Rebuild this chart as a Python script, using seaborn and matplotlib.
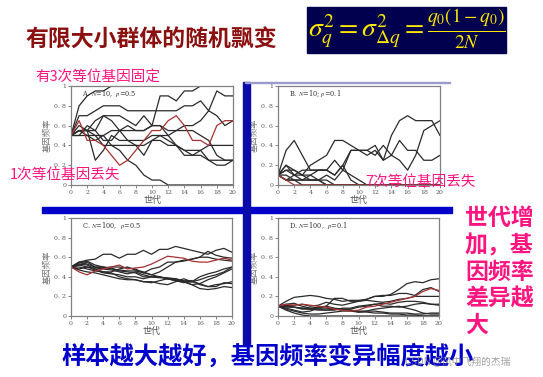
import numpy as np
import pandas as pd
import seaborn as sns
import matplotlib.pyplot as plt
from matplotlib.patches import Rectangle

sns.set_style("white")
plt.rcParams['font.family'] = ['Noto Sans CJK SC', 'DejaVu Sans']
plt.rcParams['mathtext.fontset'] = 'stix'

gens = list(range(21))

# panel A: N=10, p=0.5
a_lines = [
    [0.5, 0.8, 0.9, 0.95, 0.95, 1.0, 1.0, 1.0, 1.0, 1.0, 1.0, 1.0, 1.0, 1.0, 1.0, 1.0, 1.0, 1.0, 1.0, 1.0, 1.0],
    [0.5, 0.55, 0.55, 0.5, 0.5, 0.55, 0.55, 0.6, 0.55, 0.55, 0.6, 0.9, 0.9, 0.85, 0.95, 0.95, 1.0, 1.0, 1.0, 1.0, 1.0],
    [0.5, 0.7, 0.7, 0.75, 0.8, 0.8, 0.8, 0.75, 0.75, 0.75, 0.75, 0.75, 0.75, 0.75, 0.8, 0.8, 0.85, 0.75, 0.95, 0.9, 0.9],
    [0.5, 0.6, 0.55, 0.65, 0.7, 0.7, 0.7, 0.65, 0.6, 0.7, 0.6, 0.6, 0.5, 0.4, 0.35, 0.3, 0.3, 0.25, 0.2, 0.2, 0.25],
    [0.5, 0.55, 0.55, 0.55, 0.45, 0.45, 0.55, 0.55, 0.55, 0.55, 0.6, 0.6, 0.55, 0.55, 0.6, 0.6, 0.65, 0.75, 0.7, 0.6, 0.65],
    [0.5, 0.5, 0.5, 0.5, 0.4, 0.4, 0.4, 0.4, 0.4, 0.4, 0.45, 0.45, 0.4, 0.4, 0.35, 0.35, 0.35, 0.4, 0.4, 0.4, 0.4],
    [0.5, 0.55, 0.55, 0.25, 0.35, 0.5, 0.45, 0.45, 0.4, 0.3, 0.45, 0.5, 0.45, 0.4, 0.3, 0.3, 0.35, 0.25, 0.25, 0.25, 0.25],
    [0.5, 0.5, 0.6, 0.55, 0.7, 0.65, 0.55, 0.45, 0.45, 0.45, 0.5, 0.5, 0.5, 0.55, 0.55, 0.55, 0.5, 0.45, 0.3, 0.25, 0.25],
    [0.5, 0.55, 0.5, 0.45, 0.5, 0.4, 0.35, 0.25, 0.2, 0.1, 0.05, 0.05, 0.0, 0.0, 0.0, 0.0, 0.0, 0.0, 0.0, 0.0, 0.0],
]
a_red = [0.5, 0.65, 0.45, 0.45, 0.4, 0.3, 0.2, 0.25, 0.35, 0.45, 0.55, 0.55, 0.65, 0.7, 0.6, 0.45, 0.45, 0.4, 0.6, 0.65, 0.65]

# panel B: N=10, p=0.1
b_lines = [
    [0.1, 0.35, 0.45, 0.3, 0.15, 0.15, 0.15, 0.1, 0.2, 0.35, 0.35, 0.35, 0.4, 0.25, 0.5, 0.65, 0.7, 0.65, 0.65, 0.65, 0.5],
    [0.1, 0.2, 0.15, 0.1, 0.2, 0.25, 0.3, 0.45, 0.45, 0.4, 0.35, 0.3, 0.35, 0.25, 0.3, 0.25, 0.15, 0.3, 0.55, 0.6, 0.65],
    [0.1, 0.05, 0.1, 0.15, 0.15, 0.15, 0.15, 0.25, 0.15, 0.35, 0.35, 0.35, 0.3, 0.4, 0.3, 0.45, 0.35, 0.35, 0.25, 0.25, 0.3],
    [0.1, 0.15, 0.15, 0.1, 0.05, 0.05, 0.0, 0.0, 0.0, 0.0, 0.0, 0.0, 0.0, 0.0, 0.0, 0.0, 0.0, 0.0, 0.0, 0.0, 0.0],
    [0.1, 0.05, 0.05, 0.05, 0.05, 0.05, 0.05, 0.0, 0.0, 0.0, 0.0, 0.0, 0.0, 0.0, 0.0, 0.0, 0.0, 0.0, 0.0, 0.0, 0.0],
    [0.1, 0.1, 0.05, 0.0, 0.0, 0.0, 0.0, 0.0, 0.0, 0.0, 0.0, 0.0, 0.0, 0.0, 0.0, 0.0, 0.0, 0.0, 0.0, 0.0, 0.0],
    [0.1, 0.15, 0.1, 0.05, 0.1, 0.05, 0.1, 0.05, 0.15, 0.1, 0.05, 0.0, 0.0, 0.0, 0.0, 0.0, 0.0, 0.0, 0.0, 0.0, 0.0],
    [0.1, 0.2, 0.1, 0.1, 0.1, 0.15, 0.15, 0.1, 0.2, 0.05, 0.0, 0.0, 0.0, 0.0, 0.0, 0.0, 0.0, 0.0, 0.0, 0.0, 0.0],
    [0.1, 0.05, 0.05, 0.05, 0.05, 0.05, 0.0, 0.0, 0.0, 0.0, 0.0, 0.0, 0.0, 0.0, 0.0, 0.0, 0.0, 0.0, 0.0, 0.0, 0.0],
]
b_red = [0.1, 0.05, 0.0, 0.0, 0.0, 0.0, 0.0, 0.0, 0.0, 0.0, 0.0, 0.0, 0.0, 0.0, 0.0, 0.0, 0.0, 0.0, 0.0, 0.0, 0.0]

# panel C: N=100, p=0.5
c_lines = [
    [0.5, 0.55, 0.57, 0.58, 0.63, 0.63, 0.59, 0.63, 0.63, 0.67, 0.63, 0.68, 0.68, 0.71, 0.69, 0.67, 0.65, 0.63, 0.67, 0.69, 0.65],
    [0.5, 0.52, 0.55, 0.5, 0.49, 0.5, 0.5, 0.49, 0.48, 0.44, 0.48, 0.5, 0.55, 0.55, 0.57, 0.58, 0.6, 0.66, 0.62, 0.6, 0.59],
    [0.5, 0.53, 0.52, 0.48, 0.45, 0.45, 0.48, 0.5, 0.47, 0.45, 0.42, 0.45, 0.5, 0.55, 0.56, 0.58, 0.6, 0.6, 0.58, 0.57, 0.56],
    [0.5, 0.48, 0.5, 0.47, 0.44, 0.43, 0.42, 0.4, 0.4, 0.38, 0.4, 0.4, 0.38, 0.36, 0.35, 0.35, 0.37, 0.4, 0.42, 0.45, 0.5],
    [0.5, 0.5, 0.48, 0.46, 0.45, 0.44, 0.4, 0.38, 0.37, 0.35, 0.35, 0.33, 0.32, 0.35, 0.38, 0.35, 0.33, 0.3, 0.3, 0.34, 0.33],
    [0.5, 0.47, 0.45, 0.44, 0.42, 0.4, 0.38, 0.37, 0.37, 0.35, 0.34, 0.36, 0.38, 0.37, 0.35, 0.32, 0.28, 0.27, 0.28, 0.3, 0.29],
    [0.5, 0.52, 0.5, 0.49, 0.48, 0.47, 0.45, 0.43, 0.45, 0.42, 0.4, 0.39, 0.39, 0.38, 0.36, 0.36, 0.32, 0.3, 0.32, 0.33, 0.35],
    [0.5, 0.55, 0.53, 0.5, 0.5, 0.48, 0.47, 0.46, 0.46, 0.44, 0.42, 0.4, 0.38, 0.38, 0.35, 0.32, 0.33, 0.37, 0.4, 0.44, 0.48],
    [0.5, 0.54, 0.56, 0.52, 0.5, 0.49, 0.46, 0.45, 0.44, 0.4, 0.4, 0.4, 0.38, 0.36, 0.34, 0.35, 0.4, 0.43, 0.45, 0.48, 0.5],
]
c_red = [0.5, 0.45, 0.42, 0.46, 0.48, 0.5, 0.52, 0.48, 0.49, 0.5, 0.53, 0.57, 0.61, 0.6, 0.59, 0.56, 0.55, 0.55, 0.57, 0.59, 0.57]

# panel D: N=100, p=0.1
d_lines = [
    [0.1, 0.15, 0.19, 0.2, 0.21, 0.2, 0.18, 0.17, 0.15, 0.16, 0.16, 0.17, 0.2, 0.2, 0.22, 0.27, 0.33, 0.35, 0.34, 0.37, 0.38],
    [0.1, 0.12, 0.13, 0.1, 0.08, 0.09, 0.1, 0.18, 0.18, 0.15, 0.15, 0.17, 0.2, 0.21, 0.21, 0.23, 0.23, 0.21, 0.27, 0.29, 0.25],
    [0.1, 0.1, 0.11, 0.12, 0.1, 0.11, 0.14, 0.12, 0.11, 0.13, 0.15, 0.16, 0.15, 0.14, 0.15, 0.17, 0.18, 0.2, 0.2, 0.2, 0.2],
    [0.1, 0.08, 0.06, 0.04, 0.05, 0.08, 0.1, 0.08, 0.07, 0.07, 0.09, 0.1, 0.12, 0.13, 0.12, 0.14, 0.15, 0.15, 0.14, 0.12, 0.11],
    [0.1, 0.1, 0.09, 0.08, 0.08, 0.07, 0.06, 0.06, 0.08, 0.08, 0.1, 0.11, 0.12, 0.1, 0.1, 0.09, 0.1, 0.12, 0.13, 0.12, 0.12],
    [0.1, 0.07, 0.05, 0.03, 0.02, 0.02, 0.03, 0.04, 0.05, 0.05, 0.04, 0.05, 0.05, 0.04, 0.03, 0.03, 0.03, 0.02, 0.02, 0.03, 0.03],
    [0.1, 0.09, 0.09, 0.08, 0.07, 0.06, 0.06, 0.07, 0.07, 0.06, 0.05, 0.05, 0.07, 0.08, 0.09, 0.1, 0.08, 0.06, 0.03, 0.02, 0.02],
    [0.1, 0.11, 0.09, 0.07, 0.07, 0.08, 0.08, 0.07, 0.06, 0.06, 0.04, 0.04, 0.03, 0.03, 0.02, 0.02, 0.01, 0.01, 0.0, 0.0, 0.0],
    [0.1, 0.06, 0.03, 0.01, 0.0, 0.0, 0.0, 0.0, 0.0, 0.0, 0.0, 0.0, 0.0, 0.0, 0.0, 0.0, 0.0, 0.0, 0.0, 0.0, 0.0],
]
d_red = [0.1, 0.12, 0.11, 0.12, 0.11, 0.1, 0.09, 0.07, 0.06, 0.05, 0.06, 0.09, 0.1, 0.12, 0.14, 0.16, 0.18, 0.2, 0.25, 0.28, 0.26]

panel_labels = [r"A. $N$=10,  $p$=0.5", r"B. $N$=10; $p$=0.1",
                r"C. $N$=100,  $p$=0.5", r"D. $N$=100,  $p$=0.1"]
yticks = [0, 0.2, 0.4, 0.6, 0.8, 1]
ytick_labels = ["0", "0. 2", "0. 4", "0. 6", "0. 8", "1"]
xticks = list(range(0, 21, 2))

W, H = 543, 377
fig = plt.figure(figsize=(W / 100, H / 100), dpi=100)
fig.patch.set_facecolor("white")


def fx(px):
    return px / W


def fy(py):
    return 1 - py / H


# blue cross separating the panels
fig.patches.append(Rectangle((fx(42), fy(213)), fx(410), 6 / H, transform=fig.transFigure,
                             color="#0000C8", zorder=0))
fig.patches.append(Rectangle((fx(243), fy(345)), fx(7), 263 / H, transform=fig.transFigure,
                             color="#0A0AAA", zorder=0))
fig.patches.append(Rectangle((fx(245), fy(82.6)), fx(205), 0.7 / H, transform=fig.transFigure,
                             color="#9a9acc", zorder=0))

# formula box
fig.patches.append(Rectangle((fx(307), fy(53)), fx(199), 46 / H, transform=fig.transFigure,
                             color="#00004E", zorder=0))
fig.text(fx(407), fy(29), r"$\sigma_q^2=\sigma_{\Delta q}^2=\frac{q_0(1-q_0)}{2N}$",
         color="#FFE800", fontsize=20, ha="center", va="center")

boxes = [(71, 86, 162, 99), (278, 86, 162, 99), (71, 218, 161, 98), (278, 218, 161, 98)]
series = [(a_lines, a_red), (b_lines, b_red), (c_lines, c_red), (d_lines, d_red)]

for (x0, y0, w, h), (lines, red), label in zip(boxes, series, panel_labels):
    ax = fig.add_axes([fx(x0), fy(y0 + h), w / W, h / H])
    for vals in lines:
        sns.lineplot(x=gens, y=vals, ax=ax, color="#2a2a2a", lw=0.9)
    sns.lineplot(x=gens, y=red, ax=ax, color="#A83232", lw=0.9)
    ax.set_xlim(0, 20)
    ax.set_ylim(0, 1)
    ax.set_xticks(xticks)
    ax.set_xticklabels([str(t) for t in xticks], fontsize=4.5, family="DejaVu Serif")
    ax.set_yticks(yticks)
    ax.set_yticklabels(ytick_labels, fontsize=4.5, family="DejaVu Serif")
    ax.tick_params(axis="both", direction="out", length=2, width=0.5, pad=1.5,
                   colors="#555555", bottom=True, left=True)
    for side in ax.spines.values():
        side.set_color("#808080")
        side.set_linewidth(0.9)
    ax.set_xlabel("世代", fontsize=6.5, color="#555555", labelpad=1)
    ax.set_ylabel("基因频率", fontsize=6, color="#777777", labelpad=2)
    ax.text(0.07, 0.92, label, transform=ax.transAxes, fontsize=4.8,
            family="DejaVu Serif", va="center", color="#333333")

pink = "#FF1480"
fig.text(fx(25), fy(40), "有限大小群体的随机飘变", color="#8B1010", fontsize=16.5,
         fontweight="bold", va="center")
fig.text(fx(35), fy(78), "有3次等位基因固定", color=pink, fontsize=10.5, va="center")
fig.text(fx(10), fy(175), "1次等位基因丢失", color=pink, fontsize=10.5, va="center")
fig.text(fx(365), fy(182), "7次等位基因丢失", color=pink, fontsize=10.5, va="center")
fig.text(fx(465), fy(272), "世代增\n加，基\n因频率\n差异越\n大", color=pink, fontsize=16.5,
         fontweight="bold", va="center", ha="left", linespacing=1.2)
fig.text(fx(268), fy(357), "样本越大越好，基因频率变异幅度越小", color="#0000CC", fontsize=17.5,
         fontweight="bold", va="center", ha="center")
fig.text(fx(405), fy(362), "CSDN @风中飞翔的杰瑞", color="#888888", fontsize=7,
         va="center", alpha=0.8)

fig.savefig("out.png", dpi=100)
